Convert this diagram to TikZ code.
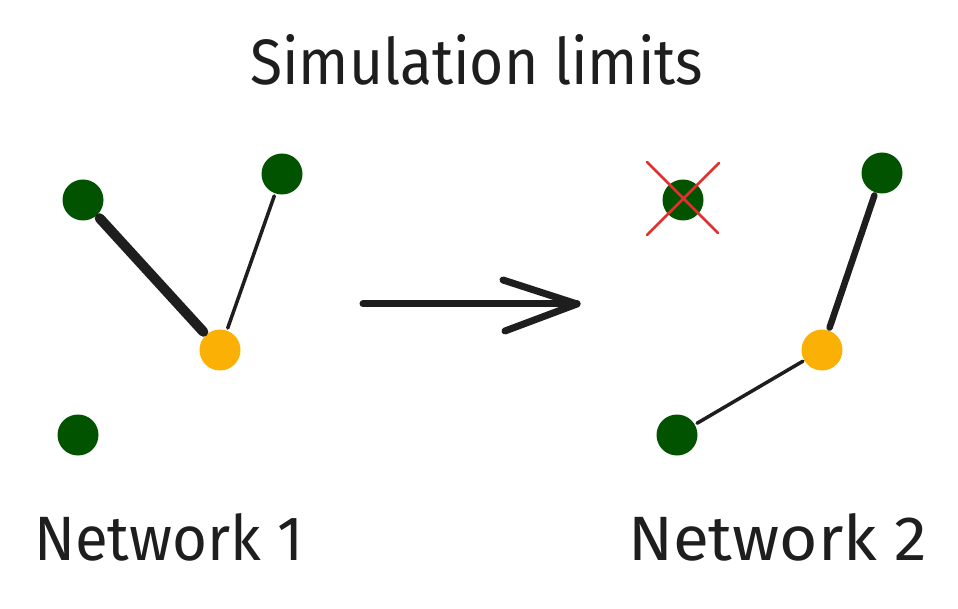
\documentclass[tikz,border=0pt]{standalone}
\usepackage{fontspec}
\usepackage{graphicx}
\setmainfont{Fira Sans}
\definecolor{ink}{HTML}{1E1E1E}
\definecolor{leaf}{HTML}{025300}
\definecolor{amber}{HTML}{FAB005}
\definecolor{cross}{HTML}{E03131}
\begin{document}
\begin{tikzpicture}[x=1pt,y=-1pt,
  green node/.style={circle,fill=leaf,minimum size=41pt,inner sep=0pt},
  orange node/.style={circle,fill=amber,minimum size=41pt,inner sep=0pt},
  edge/.style={draw=ink,line cap=round},
  label text/.style={inner sep=0pt,text=ink,anchor=base west}]
\useasboundingbox[fill=white] (0,0) rectangle (958,609);
% title
\node[label text] (title) at (250,85) {\resizebox{453pt}{50pt}{Simulation limits}};
% network 1
\node[green node] (a1) at (83,200) {};
\node[green node] (b1) at (282,174) {};
\node[green node] (c1) at (78,435) {};
\node[orange node] (o1) at (220,350) {};
\draw[edge,line width=10pt,shorten <=4pt,shorten >=4pt] (a1) -- (o1);
\draw[edge,line width=3.5pt,shorten <=2.5pt,shorten >=2.5pt] (b1) -- (o1);
\node[label text] (lab1) at (34,560) {\resizebox{269pt}{47pt}{Network 1}};
% arrow
\coordinate (arrS) at (363,304);
\coordinate (arrE) at (577,304);
\coordinate (arrU) at (503,280);
\coordinate (arrD) at (505,331);
\draw[edge,line width=7pt] (arrS) -- (arrE);
\draw[edge,line width=7pt,line join=round] (arrU) -- (arrE) -- (arrD);
% network 2
\node[green node] (a2) at (683,200) {};
\node[green node] (b2) at (882,173) {};
\node[green node] (c2) at (677,435) {};
\node[orange node] (o2) at (822,350) {};
\draw[edge,line width=6.5pt,shorten <=3pt,shorten >=3pt] (b2) -- (o2);
\draw[edge,line width=3.5pt,shorten <=2.5pt,shorten >=1.5pt] (c2) -- (o2);
\coordinate (x1) at (647,162);
\coordinate (x2) at (718,233);
\coordinate (x3) at (719,163);
\coordinate (x4) at (647,235);
\draw[cross,line width=2.7pt,line cap=round] (x1) -- (x2) (x3) -- (x4);
\node[label text] (lab2) at (628,560) {\resizebox{299pt}{47pt}{Network 2}};
\end{tikzpicture}
\end{document}
